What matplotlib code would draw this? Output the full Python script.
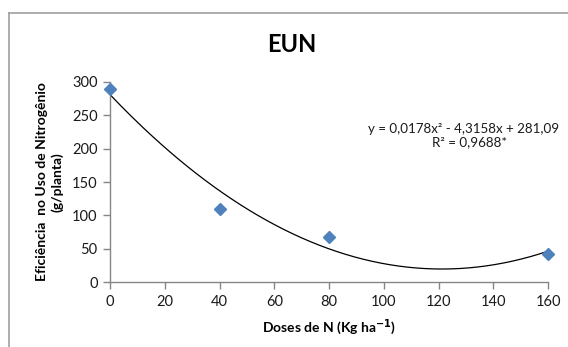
import numpy as np
import matplotlib.pyplot as plt
from matplotlib.lines import Line2D

plt.rcParams['font.family'] = ['Lato', 'DejaVu Sans']

# doses de N e eficiência observada
doses = [0, 40, 80, 160]
eun = [290, 110, 68, 42]

# ajuste quadrático
coef_a, coef_b, coef_c = 0.0178, -4.3158, 281.09
eq_text = 'y = 0,0178x² - 4,3158x + 281,09'
r2_text = 'R² = 0,9688*'

xticks = [0, 20, 40, 60, 80, 100, 120, 140, 160]
yticks = [0, 50, 100, 150, 200, 250, 300]

fig = plt.figure(figsize=(5.68, 3.47), dpi=100)
ax = fig.add_axes([0.1937, 0.1873, 0.7711, 0.5764])

xs = np.linspace(0, 160, 200)
ax.plot(xs, coef_a * xs ** 2 + coef_b * xs + coef_c, color='black', lw=0.9, zorder=2)
ax.plot(doses, eun, linestyle='none', marker='D', ms=6.5, color='#4F81BD',
        markeredgecolor='#4F81BD', zorder=3, clip_on=False)

ax.set_xlim(0, 160)
ax.set_ylim(0, 300)
ax.set_xticks(xticks)
ax.set_yticks(yticks)
for side in ['top', 'right']:
    ax.spines[side].set_visible(False)
for side in ['left', 'bottom']:
    ax.spines[side].set_color('#868686')
    ax.spines[side].set_linewidth(1.0)
ax.tick_params(direction='out', length=5, width=1, color='#868686',
               labelsize=10.5, labelcolor='#1a1a1a', pad=4)

ax.set_xlabel('Doses de N (Kg ha$^{\\mathbf{-1}}$)', fontsize=10, fontweight='bold', labelpad=6)
ax.set_ylabel('Eficiência  no Uso de Nitrogênio\n(g/planta)', fontsize=10,
              fontweight='bold', labelpad=6, linespacing=1.3)

fig.text(0.514, 0.873, 'EUN', fontsize=17, fontweight='bold', ha='center', va='center')
fig.text(368 / 568, 0.627, eq_text, fontsize=9.6, ha='left', va='center', color='#1a1a1a')
fig.text(469 / 568, 0.590, r2_text, fontsize=9.6, ha='center', va='center', color='#1a1a1a')

# moldura do gráfico
fig.add_artist(Line2D([9 / 568, 9 / 568], [0, 1 - 13 / 347], color='#a0a0a0', lw=1.2,
                      transform=fig.transFigure))
fig.add_artist(Line2D([9 / 568, 1], [1 - 13 / 347, 1 - 13 / 347], color='#a0a0a0', lw=1.2,
                      transform=fig.transFigure))

fig.savefig('out.png', dpi=100)
